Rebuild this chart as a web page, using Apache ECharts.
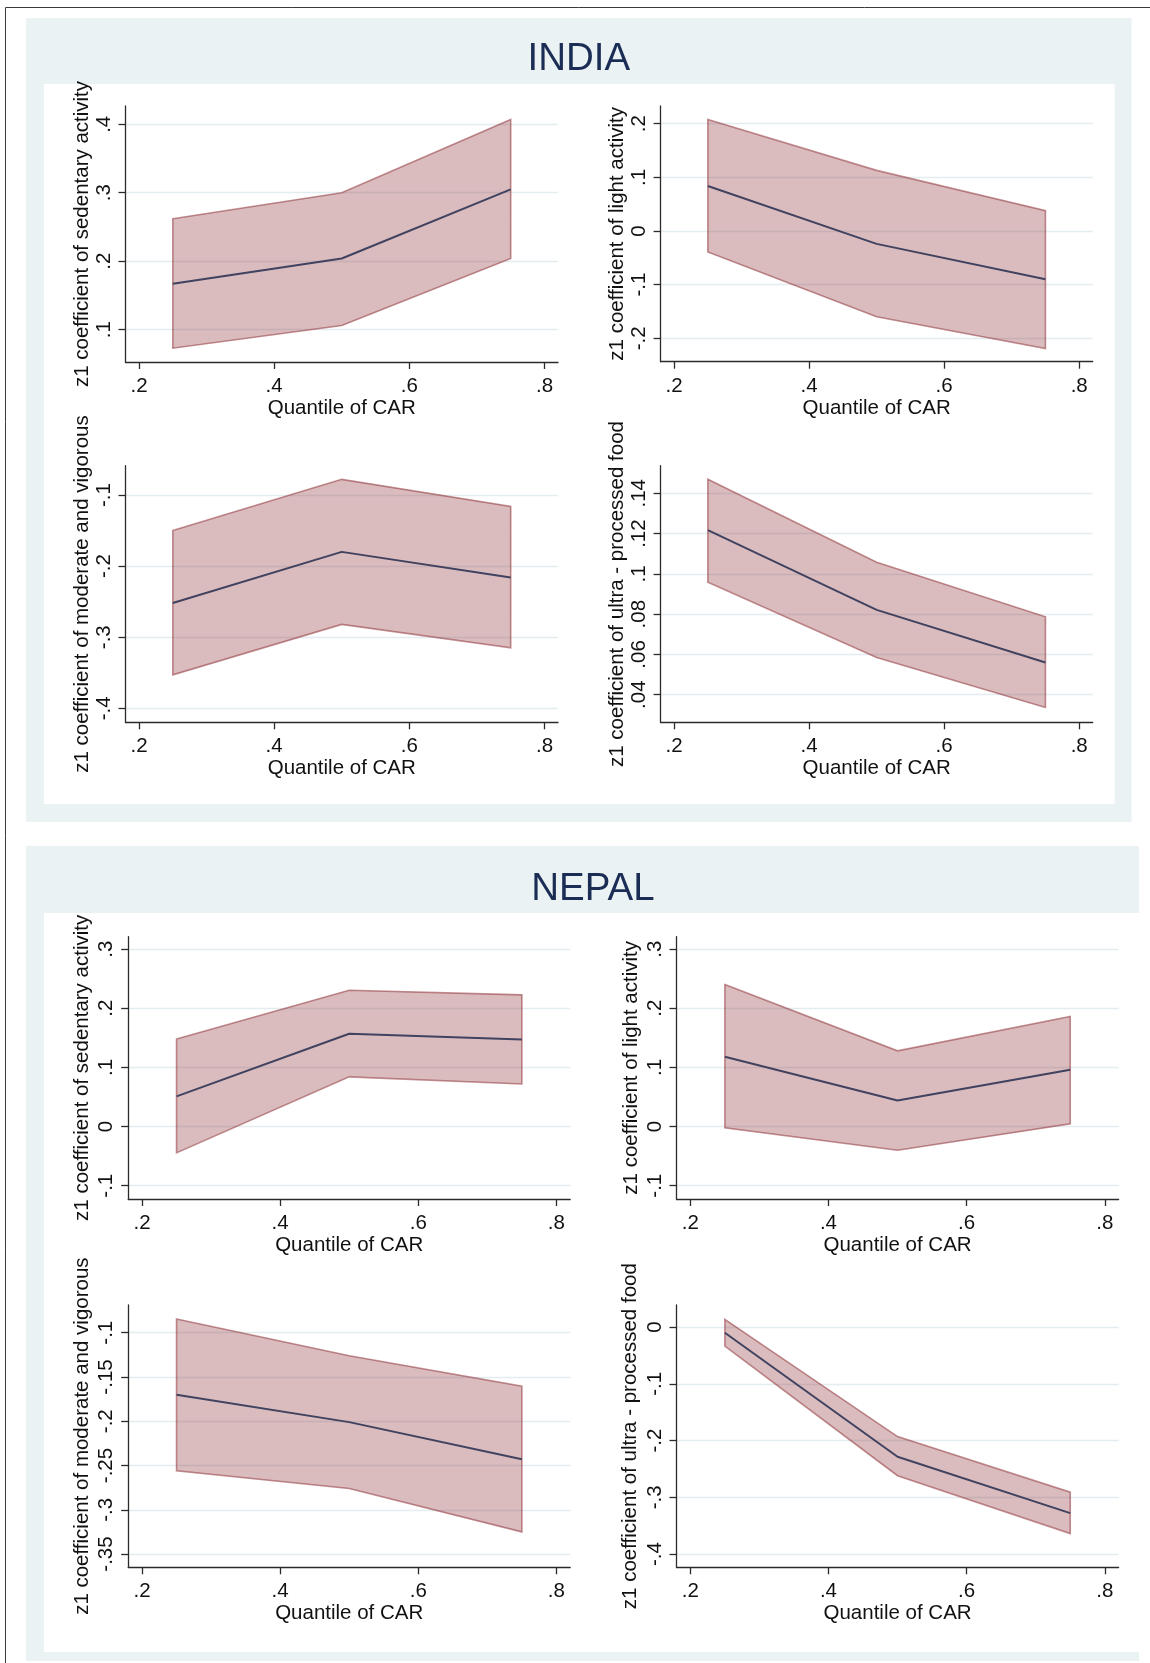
<!DOCTYPE html>
<html>
<head>
<meta charset="utf-8">
<title>Quantile regression coefficients by CAR — India and Nepal</title>
<script src="https://cdn.jsdelivr.net/npm/echarts@6/dist/echarts.min.js"></script>
<style>
  html, body { margin: 0; padding: 0; background: #ffffff; }
  #main { width: 1150px; height: 1663px; }
</style>
</head>
<body>
<div id="main"></div>
<script>
// ---- data -------------------------------------------------------------
const quantiles = [0.25, 0.5, 0.75];
const xTicks = [0.2, 0.4, 0.6, 0.8];
const xTitle = 'Quantile of CAR';
const countryTitles = ['INDIA', 'NEPAL'];

const yTitleSedentary = 'z1 coefficient of sedentary activity';
const yTitleLight = 'z1 coefficient of light activity';
const yTitleModVig = 'z1 coefficient of moderate and vigorous';
const yTitleUpf = 'z1 coefficient of ultra - processed food';

// India
const indiaSedCoef = [0.167, 0.204, 0.305];
const indiaSedLo   = [0.073, 0.106, 0.204];
const indiaSedHi   = [0.262, 0.300, 0.407];
const indiaSedTicks = [0.1, 0.2, 0.3, 0.4];

const indiaLightCoef = [0.084, -0.024, -0.090];
const indiaLightLo   = [-0.039, -0.160, -0.219];
const indiaLightHi   = [0.208, 0.113, 0.038];
const indiaLightTicks = [-0.2, -0.1, 0, 0.1, 0.2];

const indiaModVigCoef = [-0.252, -0.180, -0.216];
const indiaModVigLo   = [-0.353, -0.282, -0.315];
const indiaModVigHi   = [-0.150, -0.078, -0.116];
const indiaModVigTicks = [-0.4, -0.3, -0.2, -0.1];

const indiaUpfCoef = [0.1217, 0.0821, 0.0560];
const indiaUpfLo   = [0.0959, 0.0585, 0.0337];
const indiaUpfHi   = [0.1470, 0.1058, 0.0787];
const indiaUpfTicks = [0.04, 0.06, 0.08, 0.1, 0.12, 0.14];

// Nepal
const nepalSedCoef = [0.051, 0.157, 0.147];
const nepalSedLo   = [-0.0445, 0.084, 0.072];
const nepalSedHi   = [0.148, 0.2305, 0.2227];
const nepalSedTicks = [-0.1, 0, 0.1, 0.2, 0.3];

const nepalLightCoef = [0.118, 0.044, 0.096];
const nepalLightLo   = [-0.002, -0.040, 0.0045];
const nepalLightHi   = [0.240, 0.128, 0.186];
const nepalLightTicks = [-0.1, 0, 0.1, 0.2, 0.3];

const nepalModVigCoef = [-0.170, -0.201, -0.243];
const nepalModVigLo   = [-0.256, -0.276, -0.325];
const nepalModVigHi   = [-0.0845, -0.126, -0.1605];
const nepalModVigTicks = [-0.35, -0.3, -0.25, -0.2, -0.15, -0.1];

const nepalUpfCoef = [-0.010, -0.2285, -0.328];
const nepalUpfLo   = [-0.0335, -0.262, -0.364];
const nepalUpfHi   = [0.0136, -0.193, -0.291];
const nepalUpfTicks = [-0.4, -0.3, -0.2, -0.1, 0];

// ---- layout -------------------------------------------------------------
const FONT = '"Liberation Sans", Arial, Helvetica, sans-serif';
const FS = 20.5;
const TEXT = '#111111';
const AXIS = '#2b2b2b';
const GRIDLINE = '#e3ecef';
const PANEL = '#eaf2f3';
const LINE = '#40425f';
const BAND_FILL = 'rgba(144,53,59,0.33)';
const BAND_EDGE = 'rgba(144,53,59,0.55)';

const plots = [
  { title: yTitleSedentary, coef: indiaSedCoef, lo: indiaSedLo, hi: indiaSedHi, ticks: indiaSedTicks,
    yMin: 0.0528, yMax: 0.4267, box: [125.5, 106, 432.5, 256], nameGap: 33 },
  { title: yTitleLight, coef: indiaLightCoef, lo: indiaLightLo, hi: indiaLightHi, ticks: indiaLightTicks,
    yMin: -0.2436, yMax: 0.233, box: [660.6, 106, 432.1, 255.7], nameGap: 31 },
  { title: yTitleModVig, coef: indiaModVigCoef, lo: indiaModVigLo, hi: indiaModVigHi, ticks: indiaModVigTicks,
    yMin: -0.4197, yMax: -0.0588, box: [125.5, 465.7, 432.5, 256.6], nameGap: 33 },
  { title: yTitleUpf, coef: indiaUpfCoef, lo: indiaUpfLo, hi: indiaUpfHi, ticks: indiaUpfTicks,
    yMin: 0.0263, yMax: 0.1537, box: [660.6, 465.7, 432.1, 256.6], nameGap: 31 },
  { title: yTitleSedentary, coef: nepalSedCoef, lo: nepalSedLo, hi: nepalSedHi, ticks: nepalSedTicks,
    yMin: -0.1225, yMax: 0.321, box: [128.2, 936.7, 442, 262.3], nameGap: 35 },
  { title: yTitleLight, coef: nepalLightCoef, lo: nepalLightLo, hi: nepalLightHi, ticks: nepalLightTicks,
    yMin: -0.1225, yMax: 0.321, box: [676.5, 936.7, 442.1, 262.3], nameGap: 35 },
  { title: yTitleModVig, coef: nepalModVigCoef, lo: nepalModVigLo, hi: nepalModVigHi, ticks: nepalModVigTicks,
    yMin: -0.365, yMax: -0.0687, box: [128.2, 1305, 442, 262.3], nameGap: 35 },
  { title: yTitleUpf, coef: nepalUpfCoef, lo: nepalUpfLo, hi: nepalUpfHi, ticks: nepalUpfTicks,
    yMin: -0.4234, yMax: 0.0388, box: [676.5, 1305, 442.1, 262.3], nameGap: 36 }
];

// Stata-style tick labels: ".2", "-.15", "0"
function fmt(v) {
  const s = String(+v.toFixed(4));
  return s.replace(/^(-?)0\./, '$1.');
}

// Confidence band as one closed polygon: upper edge left→right, lower edge back
function bandRenderer(params, api) {
  if (params.dataIndexInside !== 0) return null;
  const n = params.dataInsideLength;
  const upper = [], lower = [];
  for (let k = 0; k < n; k++) {
    const x = api.value(0, k);
    upper.push(api.coord([x, api.value(2, k)]));
    lower.push(api.coord([x, api.value(1, k)]));
  }
  return {
    type: 'polygon',
    shape: { points: upper.concat(lower.reverse()) },
    style: { fill: BAND_FILL, stroke: BAND_EDGE, lineWidth: 1.6 }
  };
}

const grids = [], xAxes = [], yAxes = [], series = [];
plots.forEach((p, i) => {
  grids.push({ left: p.box[0], top: p.box[1], width: p.box[2], height: p.box[3], containLabel: false });
  xAxes.push({
    type: 'value', gridIndex: i, min: 0.18, max: 0.82,
    name: xTitle, nameLocation: 'middle', nameGap: 34,
    nameTextStyle: { fontFamily: FONT, fontSize: FS, color: TEXT },
    axisLine: { show: true, onZero: false, lineStyle: { color: AXIS, width: 1.3 } },
    axisTick: { show: true, length: 7, customValues: xTicks, lineStyle: { color: AXIS, width: 1.3 } },
    axisLabel: { customValues: xTicks, formatter: fmt, margin: 14, fontFamily: FONT, fontSize: FS, color: TEXT },
    splitLine: { show: false }
  });
  yAxes.push({
    type: 'value', gridIndex: i, min: p.yMin, max: p.yMax,
    name: p.title, nameLocation: 'middle', nameGap: p.nameGap, nameRotate: 90,
    nameTextStyle: { fontFamily: FONT, fontSize: FS, color: TEXT },
    axisLine: { show: true, onZero: false, lineStyle: { color: AXIS, width: 1.3 } },
    axisTick: { show: true, length: 7, customValues: p.ticks, lineStyle: { color: AXIS, width: 1.3 } },
    axisLabel: { customValues: p.ticks, formatter: fmt, rotate: 90, margin: 11, fontFamily: FONT, fontSize: FS, color: TEXT },
    splitLine: { show: true, lineStyle: { color: GRIDLINE, width: 1.3 } }
  });
  series.push({
    type: 'custom', xAxisIndex: i, yAxisIndex: i, silent: true, z: 2,
    data: quantiles.map((q, k) => [q, p.lo[k], p.hi[k]]),
    encode: { x: 0, y: [1, 2] },
    renderItem: bandRenderer
  });
  series.push({
    type: 'line', xAxisIndex: i, yAxisIndex: i, silent: true, z: 3,
    data: quantiles.map((q, k) => [q, p.coef[k]]),
    showSymbol: false, symbol: 'none',
    lineStyle: { color: LINE, width: 2 }
  });
});

const graphics = [
  // outer frame
  { type: 'rect', z: -100, shape: { x: 5.5, y: 7.5, width: 1300, height: 1800 },
    style: { fill: '#ffffff', stroke: '#3a3a3a', lineWidth: 1 } },
  // India panel
  { type: 'rect', z: -90, shape: { x: 26, y: 18, width: 1105.6, height: 804 }, style: { fill: PANEL } },
  { type: 'rect', z: -80, shape: { x: 44, y: 84, width: 1070.6, height: 720 }, style: { fill: '#ffffff' } },
  // Nepal panel
  { type: 'rect', z: -90, shape: { x: 26, y: 846, width: 1113, height: 815 }, style: { fill: PANEL } },
  { type: 'rect', z: -80, shape: { x: 44, y: 913, width: 1095, height: 739 }, style: { fill: '#ffffff' } },
  { type: 'text', z: -70, x: 578.8, y: 59.5,
    style: { text: countryTitles[0], fill: '#1c2d55', font: '38.5px ' + FONT, textAlign: 'center', textVerticalAlign: 'middle' } },
  { type: 'text', z: -70, x: 592.9, y: 889,
    style: { text: countryTitles[1], fill: '#1c2d55', font: '38.5px ' + FONT, textAlign: 'center', textVerticalAlign: 'middle' } }
];

const chart = echarts.init(document.getElementById('main'), null, { renderer: 'canvas' });
chart.setOption({
  animation: false,
  backgroundColor: '#ffffff',
  graphic: { elements: graphics },
  grid: grids,
  xAxis: xAxes,
  yAxis: yAxes,
  series: series
});
</script>
</body>
</html>
